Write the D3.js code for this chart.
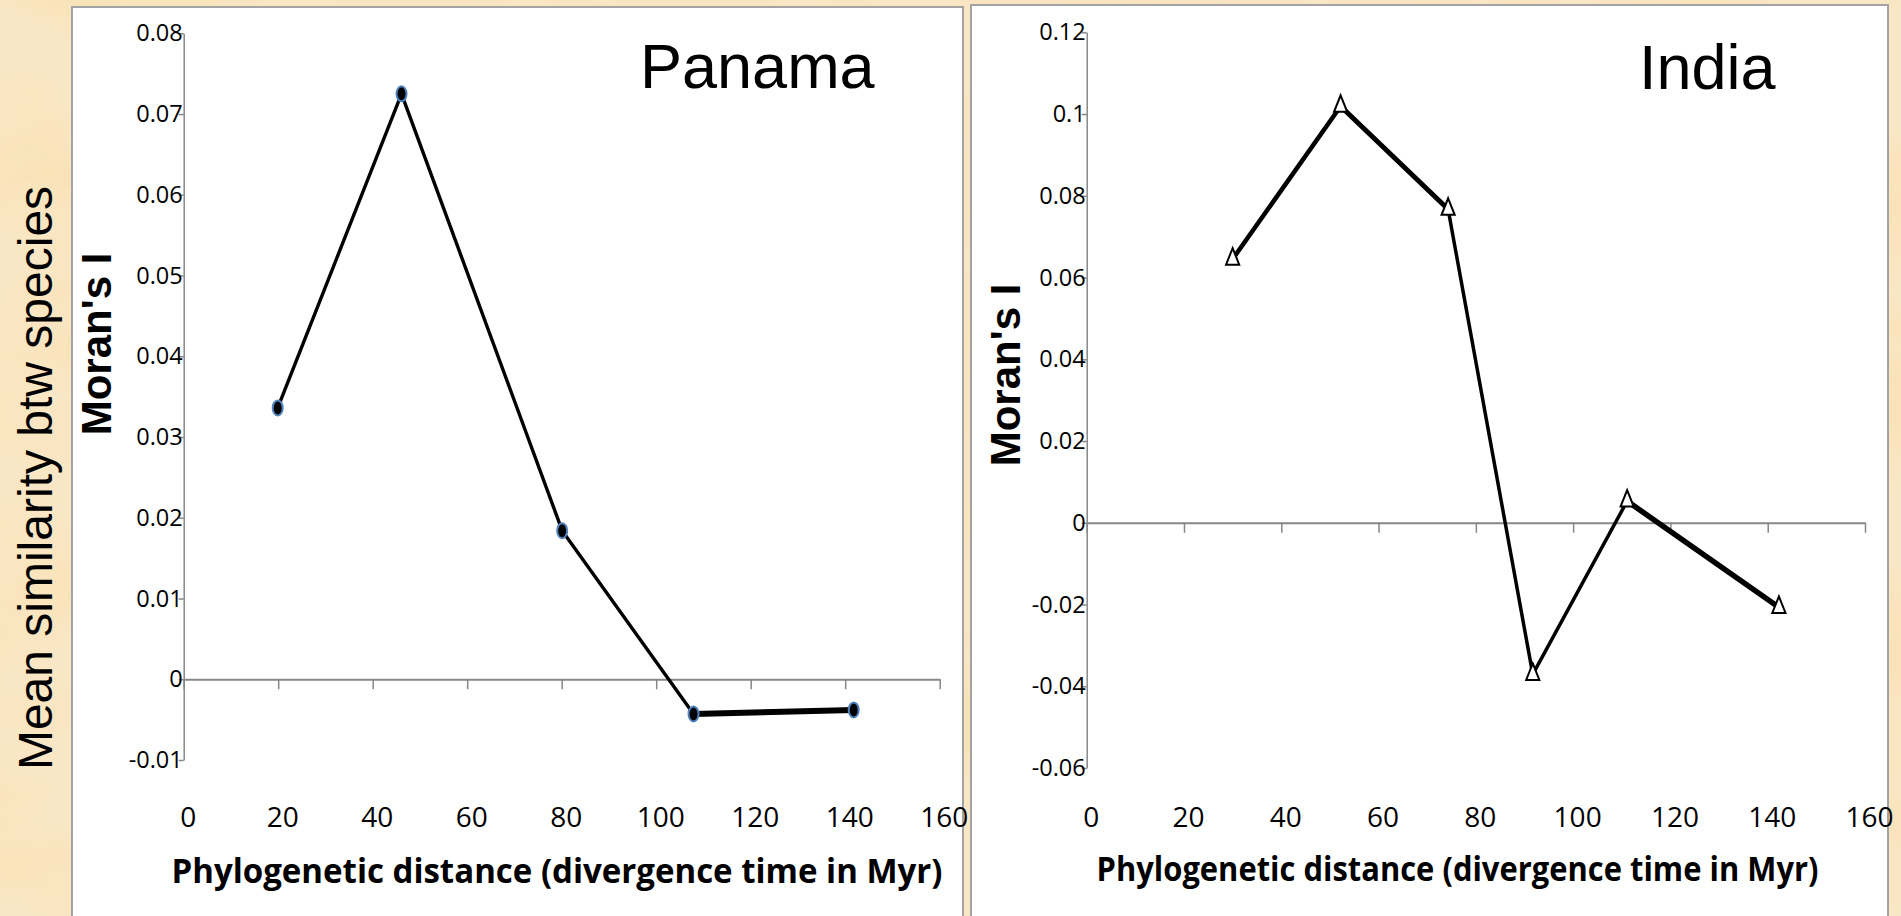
<!DOCTYPE html>
<html>
<head>
<meta charset="utf-8">
<script src="https://cdn.jsdelivr.net/npm/d3@7"></script>
<style>
  html, body { margin: 0; padding: 0; background: #f6e0b8; }
  svg { display: block; }
</style>
</head>
<body>
<svg id="chart" width="1901" height="916"></svg>
<script>
// ---------------- data ----------------
const panamaDistance = [19.9, 46.1, 80.1, 107.9, 141.8];
const panamaMoran    = [0.0336, 0.0725, 0.0184, -0.0043, -0.0038];

const indiaDistance  = [30.0, 52.2, 74.3, 91.7, 111.1, 142.3];
const indiaMoran     = [0.0645, 0.1019, 0.0767, -0.0371, 0.0053, -0.0207];

const xTicks         = [0, 20, 40, 60, 80, 100, 120, 140, 160];
const panamaYTicks   = [-0.01, 0, 0.01, 0.02, 0.03, 0.04, 0.05, 0.06, 0.07, 0.08];
const indiaYTicks    = [-0.06, -0.04, -0.02, 0, 0.02, 0.04, 0.06, 0.08, 0.1, 0.12];

const panelTitles    = ["Panama", "India"];
const yTitle         = "Moran's I";
const xTitle         = "Phylogenetic distance (divergence time in Myr)";
const sideTitle      = "Mean similarity btw species";

// ---------------- drawing ----------------
const svg = d3.select("#chart");
const defs = svg.append("defs");

// parchment texture
const f = defs.append("filter").attr("id", "parch")
  .attr("x", 0).attr("y", 0).attr("width", "100%").attr("height", "100%");
f.append("feTurbulence").attr("type", "fractalNoise")
  .attr("baseFrequency", "0.004 0.009").attr("numOctaves", 4).attr("seed", 7);
f.append("feColorMatrix").attr("type", "matrix")
  .attr("values", "0 0 0 0 0.94  0 0 0 0 0.76  0 0 0 0 0.46  0 0 0 2.0 -0.8");

svg.append("rect").attr("width", 1901).attr("height", 916).attr("fill", "#f9e6c4");
svg.append("rect").attr("width", 1901).attr("height", 916).attr("filter", "url(#parch)");

const fmt = d => String(+d.toFixed(2));
const axisGray = "#878787";

function panel(cfg) {
  const g = svg.append("g");
  g.append("rect")
    .attr("x", cfg.box[0]).attr("y", cfg.box[1])
    .attr("width", cfg.box[2]).attr("height", cfg.box[3])
    .attr("fill", "#ffffff").attr("stroke", "#a3a3a3").attr("stroke-width", 2);

  const x = d3.scaleLinear().domain([0, 160]).range(cfg.xRange);
  const y = d3.scaleLinear().domain(d3.extent(cfg.yTicks)).range(cfg.yRange);

  // y axis
  const ya = g.append("g").attr("transform", `translate(${cfg.xRange[0]},0)`)
    .call(d3.axisLeft(y).tickValues(cfg.yTicks).tickFormat(fmt)
      .tickSizeInner(5).tickSizeOuter(0).tickPadding(-4));
  ya.select(".domain").attr("stroke", axisGray).attr("stroke-width", 1.5);
  ya.selectAll(".tick line").attr("stroke", axisGray).attr("stroke-width", 1.5);
  ya.selectAll(".tick text").attr("font-family", "'Open Sans', sans-serif")
    .attr("font-size", 23.5).attr("fill", "#000");

  // x axis on zero line
  const xa = g.append("g").attr("transform", `translate(0,${y(0)})`)
    .call(d3.axisBottom(x).tickValues(xTicks).tickFormat("")
      .tickSizeInner(10).tickSizeOuter(0));
  xa.select(".domain").attr("stroke", axisGray).attr("stroke-width", 2.2);
  xa.selectAll(".tick line").attr("stroke", axisGray).attr("stroke-width", 1.5);

  // x tick labels (low position)
  g.selectAll(".xl").data(xTicks).enter().append("text")
    .attr("x", d => x(d) + 4.5).attr("y", 816.5)
    .attr("dy", "0.36em").attr("text-anchor", "middle")
    .attr("font-family", "'Open Sans', sans-serif").attr("font-size", 28)
    .attr("fill", "#000").text(d => d);

  // x title
  g.append("text").attr("x", cfg.xTitle[0]).attr("y", cfg.xTitle[1])
    .attr("font-family", "'Open Sans', sans-serif").attr("font-weight", "bold")
    .attr("font-size", 34.5).attr("fill", "#000")
    .attr("textLength", cfg.xTitle[2]).attr("lengthAdjust", "spacingAndGlyphs")
    .text(xTitle);

  // y title
  g.append("text")
    .attr("transform", `translate(${cfg.yTitle[0]},${cfg.yTitle[1]}) rotate(-90)`)
    .attr("text-anchor", "middle")
    .attr("font-family", "'Liberation Sans', Arial, sans-serif").attr("font-weight", "bold")
    .attr("font-size", 42).attr("fill", "#000").text(yTitle);

  // panel title
  g.append("text").attr("x", cfg.title[0]).attr("y", cfg.title[1])
    .attr("font-family", "'Liberation Sans', Arial, sans-serif")
    .attr("font-size", 63).attr("fill", "#000").text(cfg.name);

  // line segments
  const pts = cfg.xs.map((d, i) => [x(d), y(cfg.ys[i])]);
  const line = d3.line();
  for (let i = 0; i < pts.length - 1; i++) {
    g.append("path").attr("d", line([pts[i], pts[i + 1]]))
      .attr("fill", "none").attr("stroke", "#000")
      .attr("stroke-width", cfg.segWidths[i]).attr("stroke-linecap", "round");
  }
  return { g, x, y, pts };
}

const pan = panel({
  name: panelTitles[0],
  box: [72, 7, 891, 930],
  xRange: [183.7, 939.7],
  yRange: [760, 33.3],
  yTicks: panamaYTicks,
  xs: panamaDistance, ys: panamaMoran,
  segWidths: [3.4, 3.4, 3.4, 6],
  xTitle: [171.5, 883, 771],
  yTitle: [111, 344],
  title: [640, 88]
});

pan.g.selectAll(".mk").data(panamaDistance).enter().append("ellipse")
  .attr("cx", d => pan.x(d)).attr("cy", (d, i) => pan.y(panamaMoran[i]))
  .attr("rx", 5).attr("ry", 7.5)
  .attr("fill", "#000").attr("stroke", "#4f81bd").attr("stroke-width", 2);

const ind = panel({
  name: panelTitles[1],
  box: [971, 5, 917, 930],
  xRange: [1086.7, 1865],
  yRange: [768, 32.3],
  yTicks: indiaYTicks,
  xs: indiaDistance, ys: indiaMoran,
  segWidths: [4.5, 5, 3.5, 3.5, 5.5],
  xTitle: [1096.5, 881, 722],
  yTitle: [1020, 375],
  title: [1639, 89]
});

const tri = d3.symbol().type(d3.symbolTriangle).size(75);
ind.g.selectAll(".mk").data(indiaDistance).enter().append("path")
  .attr("d", tri)
  .attr("transform", (d, i) => `translate(${ind.x(d)},${ind.y(indiaMoran[i])}) scale(1,1.45)`)
  .attr("fill", "#fff").attr("stroke", "#000").attr("stroke-width", 2)
  .attr("vector-effect", "non-scaling-stroke");

// side title
svg.append("text")
  .attr("transform", "translate(52,478) rotate(-90)")
  .attr("text-anchor", "middle")
  .attr("font-family", "'Liberation Sans', Arial, sans-serif")
  .attr("font-size", 48).attr("fill", "#000").text(sideTitle);
</script>
</body>
</html>
